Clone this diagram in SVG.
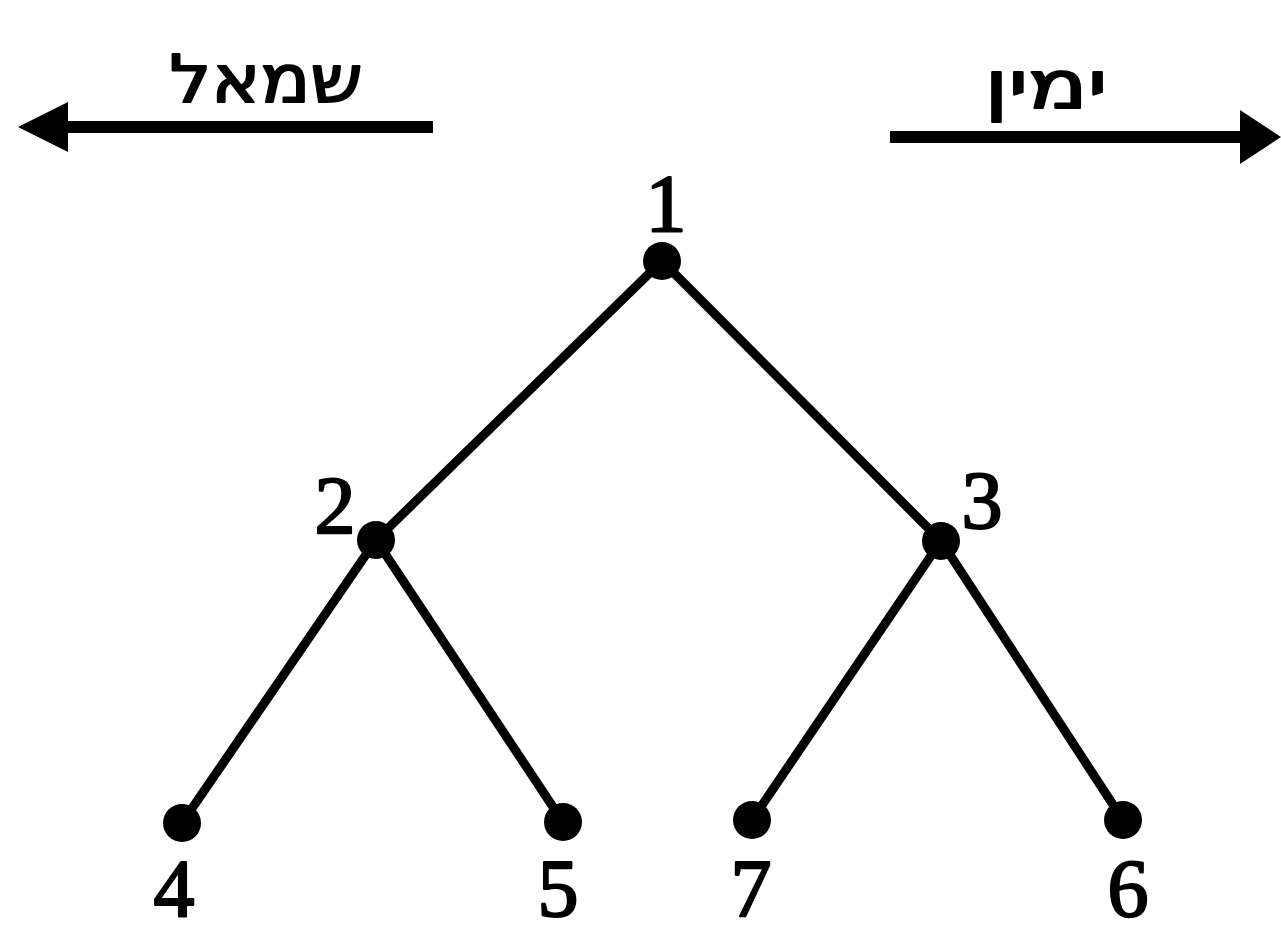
<svg xmlns="http://www.w3.org/2000/svg" width="1281" height="933" viewBox="0 0 1281 933">
<style>
.edge{stroke:#000;stroke-width:9;stroke-linecap:round;fill:none}
.arrow{stroke:#000;stroke-width:12;fill:none}
.dot{fill:#000}
.num{font-family:"Liberation Serif","Times New Roman",serif;font-size:82px;fill:#000;stroke:#000;stroke-width:2.2;stroke-linejoin:round;text-anchor:middle}
.heb{font-family:"DejaVu Sans","Liberation Sans",sans-serif;font-size:66px;fill:#000;stroke:#000;stroke-width:2;stroke-linejoin:round;text-anchor:middle}
</style>
<rect width="1281" height="933" fill="#fff"/>
<g id="direction-left">
<line class="arrow" x1="433" y1="127" x2="60" y2="127"/>
<polygon points="18,127 68,102 68,152" fill="#000"/>
<text class="heb" x="266" y="102" direction="rtl" textLength="193" lengthAdjust="spacingAndGlyphs">שמאל</text>
</g>
<g id="direction-right">
<line class="arrow" x1="890" y1="137" x2="1245" y2="137"/>
<polygon points="1281,137 1240,110 1240,164" fill="#000"/>
<text class="heb" x="1046" y="108" direction="rtl" textLength="123" lengthAdjust="spacingAndGlyphs">ימין</text>
</g>
<g id="connectors">
<line class="edge" x1="662" y1="261" x2="376" y2="540"/>
<line class="edge" x1="662" y1="261" x2="941" y2="541"/>
<line class="edge" x1="376" y1="540" x2="182" y2="823"/>
<line class="edge" x1="376" y1="540" x2="563" y2="822"/>
<line class="edge" x1="941" y1="541" x2="752" y2="820"/>
<line class="edge" x1="941" y1="541" x2="1123" y2="820"/>
</g>
<g id="node-1"><circle class="dot" cx="662" cy="261" r="19"/><text class="num" x="666" y="231">1</text></g>
<g id="node-2"><circle class="dot" cx="376" cy="540" r="19"/><text class="num" x="335" y="533">2</text></g>
<g id="node-3"><circle class="dot" cx="941" cy="541" r="19"/><text class="num" x="982" y="528">3</text></g>
<g id="node-4"><circle class="dot" cx="182" cy="823" r="19"/><text class="num" x="174" y="916">4</text></g>
<g id="node-5"><circle class="dot" cx="563" cy="822" r="19"/><text class="num" x="558" y="916">5</text></g>
<g id="node-7"><circle class="dot" cx="752" cy="820" r="19"/><text class="num" x="751" y="916">7</text></g>
<g id="node-6"><circle class="dot" cx="1123" cy="820" r="19"/><text class="num" x="1128" y="916">6</text></g>
</svg>
